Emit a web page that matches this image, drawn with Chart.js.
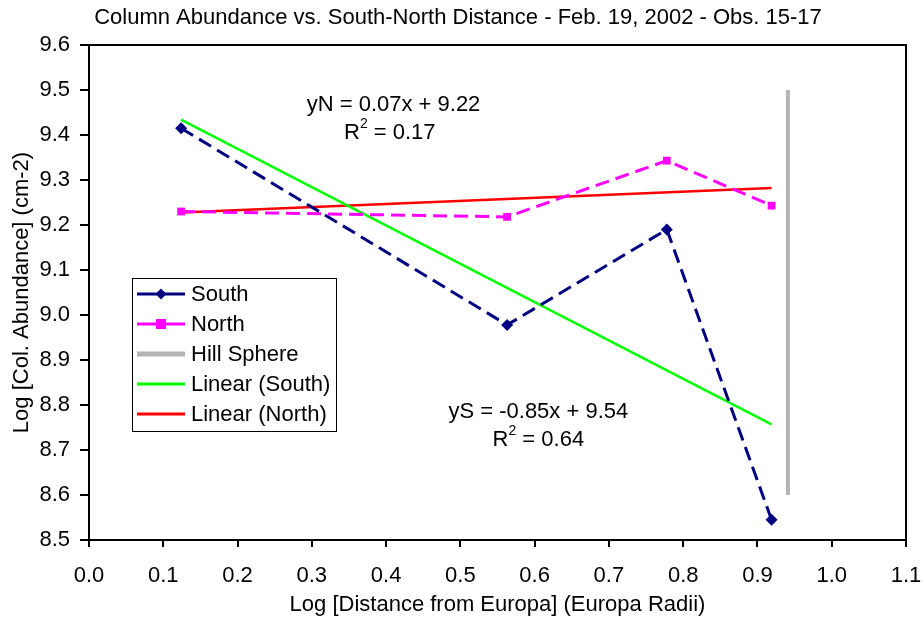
<!DOCTYPE html>
<html>
<head>
<meta charset="utf-8">
<script src="https://cdn.jsdelivr.net/npm/chart.js@4"></script>
<style>
  html, body { margin: 0; padding: 0; background: #fff; }
  #wrap { width: 922px; height: 620px; }
</style>
</head>
<body>
<div id="wrap"><canvas id="myChart" width="922" height="620"></canvas></div>
<script>
// data
var southX = [0.124, 0.563, 0.778, 0.919];
var southY = [9.415, 8.978, 9.190, 8.545];
var northX = [0.124, 0.563, 0.778, 0.919];
var northY = [9.230, 9.218, 9.343, 9.243];
var hillX = [0.941, 0.941];
var hillY = [8.6, 9.5];
var linSouthX = [0.124, 0.919];
var linSouthY = [9.434, 8.757];
var linNorthX = [0.124, 0.919];
var linNorthY = [9.228, 9.282];

var FONT = '"Liberation Sans", Arial, sans-serif';

function pts(xs, ys) {
  return xs.map(function(x, i){ return {x: x, y: ys[i]}; });
}

var datasets = [
  { label: 'South', data: pts(southX, southY), showLine: true,
    borderColor: '#000080', backgroundColor: '#000080', borderWidth: 3,
    borderDash: [14, 7], pointStyle: 'rectRot', pointRadius: 6, pointBorderWidth: 0 },
  { label: 'North', data: pts(northX, northY), showLine: true,
    borderColor: '#ff00ff', backgroundColor: '#ff00ff', borderWidth: 3,
    borderDash: [14, 7], pointStyle: 'rect', pointRadius: 5.5, pointBorderWidth: 0 },
  { label: 'Hill Sphere', data: pts(hillX, hillY), showLine: true,
    borderColor: '#b4b4b4', borderWidth: 4, pointRadius: 0, borderCapStyle: 'butt' },
  { label: 'Linear (South)', data: pts(linSouthX, linSouthY), showLine: true,
    borderColor: '#00ff00', borderWidth: 2.5, pointRadius: 0 },
  { label: 'Linear (North)', data: pts(linNorthX, linNorthY), showLine: true,
    borderColor: '#ff0000', borderWidth: 2.5, pointRadius: 0 }
];

// title, box, equations and legend drawn by hand
var extras = {
  id: 'extras',
  afterDraw: function(chart) {
    var ctx = chart.ctx;
    var a = chart.chartArea;
    var sx = chart.scales.x, sy = chart.scales.y;
    ctx.save();
    // plot frame
    ctx.strokeStyle = '#000';
    ctx.lineWidth = 2;
    ctx.strokeRect(a.left, a.top, a.right - a.left, a.bottom - a.top);

    ctx.fillStyle = '#000';
    ctx.textAlign = 'center';
    ctx.textBaseline = 'middle';
    ctx.font = '22px ' + FONT;
    ctx.fillText('Column Abundance vs. South-North Distance - Feb. 19, 2002 - Obs. 15-17', 458, 18);

    ctx.fillText('Log [Distance from Europa] (Europa Radii)', (a.left + a.right) / 2, 605);
    ctx.save();
    ctx.translate(22, (a.top + a.bottom) / 2);
    ctx.rotate(-Math.PI / 2);
    ctx.fillText('Log [Col. Abundance] (cm-2)', 0, 0);
    ctx.restore();

    // trend equations
    ctx.fillText('yN = 0.07x + 9.22', sx.getPixelForValue(0.41), sy.getPixelForValue(9.467));
    drawR2(ctx, '0.17', sx.getPixelForValue(0.405), sy.getPixelForValue(9.404));
    ctx.fillText('yS = -0.85x + 9.54', sx.getPixelForValue(0.605), sy.getPixelForValue(8.784));
    drawR2(ctx, '0.64', sx.getPixelForValue(0.605), sy.getPixelForValue(8.722));

    // legend box
    var lx = 132, ly = 278, lw = 204, lh = 153;
    ctx.fillStyle = '#fff';
    ctx.fillRect(lx, ly, lw, lh);
    ctx.strokeStyle = '#000';
    ctx.lineWidth = 1;
    ctx.strokeRect(lx + 0.5, ly + 0.5, lw, lh);
    ctx.textAlign = 'left';
    ctx.font = '22px ' + FONT;
    chart.data.datasets.forEach(function(ds, i) {
      var yy = ly + 16 + i * 30;
      ctx.strokeStyle = ds.borderColor;
      ctx.lineWidth = ds.label === 'Hill Sphere' ? 5 : 3;
      ctx.beginPath();
      ctx.moveTo(lx + 5, yy);
      ctx.lineTo(lx + 53, yy);
      ctx.stroke();
      if (ds.pointRadius > 0) {
        ctx.fillStyle = ds.backgroundColor;
        ctx.beginPath();
        if (ds.pointStyle === 'rect') {
          ctx.rect(lx + 29 - 5, yy - 5, 10, 10);
        } else {
          ctx.moveTo(lx + 29, yy - 5.5);
          ctx.lineTo(lx + 34.5, yy);
          ctx.lineTo(lx + 29, yy + 5.5);
          ctx.lineTo(lx + 23.5, yy);
          ctx.closePath();
        }
        ctx.fill();
      }
      ctx.fillStyle = '#000';
      ctx.fillText(ds.label, lx + 59, yy + 1);
    });
    ctx.restore();
  }
};

function drawR2(ctx, val, cx, cy) {
  var s1 = 'R', s3 = ' = ' + val;
  ctx.font = '22px ' + FONT;
  var w1 = ctx.measureText(s1).width;
  var w3 = ctx.measureText(s3).width;
  ctx.font = '14px ' + FONT;
  var w2 = ctx.measureText('2').width;
  var x0 = cx - (w1 + w2 + w3) / 2;
  ctx.textAlign = 'left';
  ctx.font = '22px ' + FONT;
  ctx.fillText(s1, x0, cy);
  ctx.font = '14px ' + FONT;
  ctx.fillText('2', x0 + w1, cy - 9);
  ctx.font = '22px ' + FONT;
  ctx.fillText(s3, x0 + w1 + w2, cy);
  ctx.textAlign = 'center';
}

var config = {
  type: 'scatter',
  data: { datasets: datasets },
  options: {
    responsive: false,
    animation: false,
    layout: { padding: { top: 45, right: 16, left: 0, bottom: 0 } },
    plugins: { legend: { display: false }, title: { display: false }, tooltip: { enabled: false } },
    scales: {
      x: {
        type: 'linear', min: 0, max: 1.1,
        afterFit: function(s) { s.height = 80; s.paddingLeft = 0; s.paddingRight = 0; },
        ticks: { stepSize: 0.1, color: '#000', font: { family: FONT, size: 22 }, padding: 16,
                 callback: function(v) { return v.toFixed(1); } },
        grid: { display: true, drawOnChartArea: false, drawTicks: true, tickLength: 7, color: '#000', lineWidth: 2 },
        border: { display: true, color: '#000', width: 2 }
      },
      y: {
        type: 'linear', min: 8.5, max: 9.6,
        afterFit: function(s) { s.width = 89; s.paddingTop = 0; s.paddingBottom = 0; },
        ticks: { stepSize: 0.1, color: '#000', font: { family: FONT, size: 22 }, padding: 10,
                 callback: function(v) { return v.toFixed(1); } },
        grid: { display: true, drawOnChartArea: false, drawTicks: true, tickLength: 9, color: '#000', lineWidth: 2 },
        border: { display: true, color: '#000', width: 2 }
      }
    }
  },
  plugins: [extras]
};

document.addEventListener('DOMContentLoaded', function() {
  var myChart = new Chart(document.getElementById('myChart'), config);
});
</script>
</body>
</html>
